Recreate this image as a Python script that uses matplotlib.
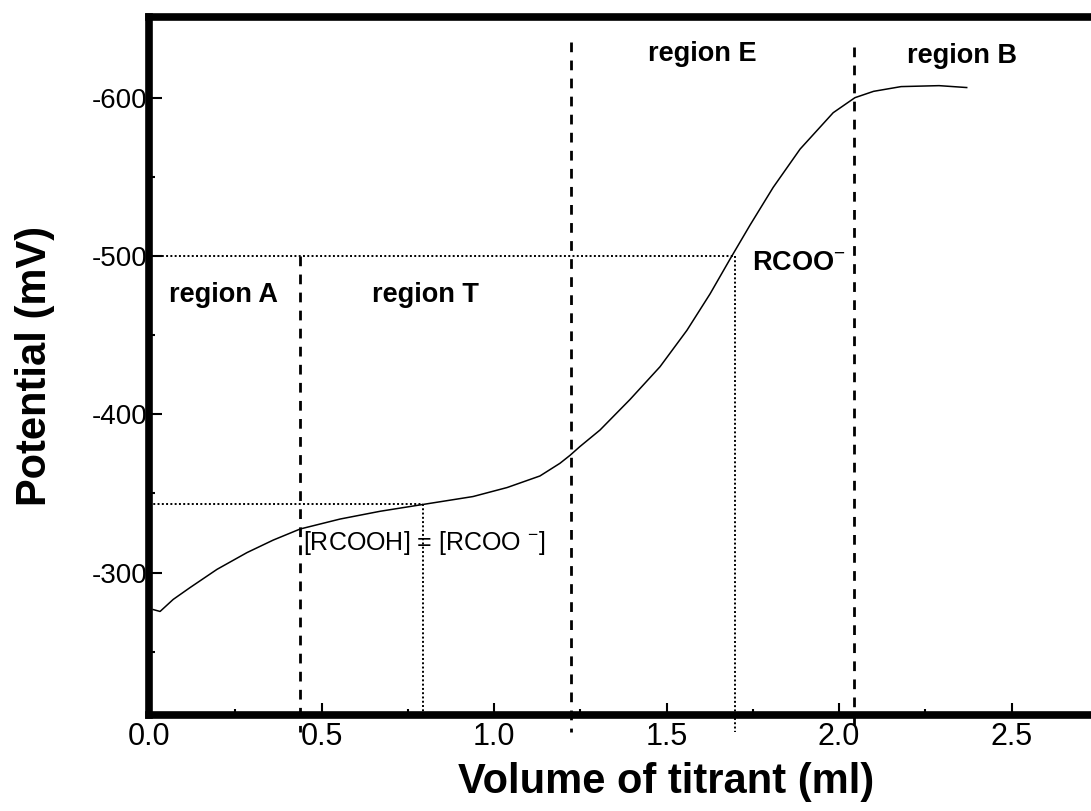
import numpy as np
import matplotlib.pyplot as plt
from matplotlib.ticker import MultipleLocator

plt.rcParams['font.family'] = ['Liberation Sans', 'DejaVu Sans']
plt.rcParams['mathtext.fontset'] = 'custom'
plt.rcParams['mathtext.rm'] = 'Liberation Sans'
plt.rcParams['mathtext.default'] = 'rm'

# titration curve (volume in ml, potential in mV)
volume = [0.012, 0.032, 0.07, 0.119, 0.197, 0.284, 0.36, 0.438, 0.554, 0.67,
          0.794, 0.939, 1.038, 1.133, 1.191, 1.22, 1.249, 1.307, 1.394, 1.481,
          1.559, 1.626, 1.684, 1.742, 1.809, 1.887, 1.983, 2.046, 2.10, 2.18,
          2.29, 2.37]
potential = [-276.6, -275.4, -283, -290.5, -302, -312.6, -320.5, -327.5,
             -333.8, -338.7, -343, -348, -353.7, -361, -369, -374, -379.6,
             -390, -409.3, -430, -453, -476, -498, -519.5, -543.3, -567.5,
             -590.5, -600, -604, -607, -607.6, -606.4]

# region boundaries (dashed) and reference points (dotted)
bound_x = [0.438, 1.223, 2.043]
bound_top = [-500, -635, -632]
half_eq = (0.794, -343)     # [RCOOH] = [RCOO-]
full_eq = (1.699, -500)     # RCOO-

region_names = ['region A', 'region T', 'region E', 'region B']
region_x = [0.215, 0.80, 1.603, 2.357]
region_y = [-471, -471, -623, -622]

fig = plt.figure(figsize=(10.91, 8.11), dpi=100)
ax = fig.add_axes([0.1366, 0.1184, 0.9487, 0.8607])

ax.plot(volume, potential, color='black', lw=1.1)

ylo = -199
for x, top in zip(bound_x, bound_top):
    ax.plot([x, x], [top, ylo], color='black', lw=2, ls=(0, (3.5, 3)), clip_on=False)

dot = dict(color='black', lw=1.4, ls=(0, (1, 1.2)), clip_on=False)
ax.plot([0, full_eq[0]], [full_eq[1], full_eq[1]], **dot)
ax.plot([full_eq[0], full_eq[0]], [full_eq[1], ylo], **dot)
ax.plot([0, half_eq[0]], [half_eq[1], half_eq[1]], **dot)
ax.plot([half_eq[0], half_eq[0]], [half_eq[1], -210], **dot)

for name, x, y in zip(region_names, region_x, region_y):
    ax.text(x, y, name, ha='center', va='baseline', fontsize=19.5, fontweight='bold')
ax.text(1.748, -491.4, r'RCOO$^{-}$', ha='left', va='baseline', fontsize=19.5, fontweight='bold')
ax.text(0.446, -314.5, r'[RCOOH] = [RCOO $^{-}$]', ha='left', va='baseline', fontsize=18)

ax.set_xlim(0, 3.0)
ax.set_ylim(-210, -651)
ax.set_xticks([0, 0.5, 1.0, 1.5, 2.0, 2.5])
ax.xaxis.set_minor_locator(MultipleLocator(0.25))
ax.set_yticks([-600, -500, -400, -300])
ax.set_yticks([-550, -450, -350, -250], minor=True)
ax.xaxis.set_major_formatter(plt.FuncFormatter(lambda v, p: f'{v:.1f}'))
ax.yaxis.set_major_formatter(plt.FuncFormatter(lambda v, p: f'{v:.0f}'))

ax.tick_params(which='both', direction='in', width=1.5, color='black')
ax.tick_params(which='major', length=9)
ax.tick_params(which='minor', length=4)
ax.tick_params(axis='x', labelsize=22, pad=5)
ax.tick_params(axis='y', labelsize=20, pad=1)
ax.tick_params(top=False, right=False)
for s in ax.spines.values():
    s.set_linewidth(5.5)

ax.set_xlabel('Volume of titrant (ml)', fontsize=30, fontweight='bold')
ax.set_ylabel('Potential (mV)', fontsize=30, fontweight='bold')
ax.xaxis.set_label_coords(0.5, -0.068)
ax.yaxis.set_label_coords(-0.091, 0.5)

fig.savefig('out.png', dpi=100)
